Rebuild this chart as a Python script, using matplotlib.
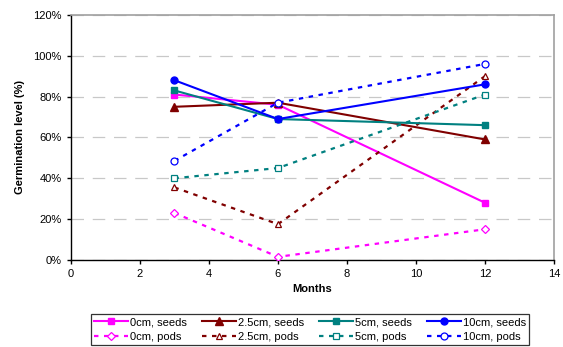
import matplotlib
matplotlib.use("Agg")
import matplotlib.pyplot as plt
from matplotlib.ticker import PercentFormatter

plt.rcParams['font.family'] = ['Liberation Sans', 'DejaVu Sans']

months = [3, 6, 12]
labels = ['0cm', '2.5cm', '5cm', '10cm']
colors = ['#FF00FF', '#800000', '#008080', '#0000FF']
seed_markers = ['s', '^', 's', 'o']
pod_markers = ['D', '^', 's', 'o']

seeds = [
    [81, 76, 28],
    [75, 77, 59],
    [83, 69, 66],
    [88, 69, 86],
]
pods = [
    [23, 1.5, 15],
    [35.5, 17.5, 90],
    [40, 45, 81],
    [48.5, 77, 96],
]

fig = plt.figure(figsize=(5.63, 3.47), dpi=100)
ax = fig.add_axes([0.126, 0.251, 0.858, 0.706])

handles = []
for i in range(4):
    ms = 5 if seed_markers[i] != '^' else 5.5
    h1, = ax.plot(months, seeds[i], color=colors[i], lw=1.5,
                  marker=seed_markers[i], ms=ms, mec=colors[i],
                  label=f'{labels[i]}, seeds', zorder=3)
    pm = 3.8 if pod_markers[i] == 'D' else 5
    h2, = ax.plot(months, pods[i], color=colors[i], lw=1.6,
                  linestyle=(0, (2, 2.5)), marker=pod_markers[i], ms=pm,
                  mfc='white', mec=colors[i], mew=0.9,
                  label=f'{labels[i]}, pods', zorder=3)
    handles += [h1, h2]

ax.set_xlim(0, 14)
ax.set_ylim(0, 120)
ax.set_xticks(range(0, 15, 2))
ax.set_yticks(range(0, 121, 20))
ax.yaxis.set_major_formatter(PercentFormatter(decimals=0))
ax.tick_params(labelsize=8, length=3, width=1, direction='out')
ax.yaxis.grid(True, color='#C8C8C8', lw=0.9, linestyle=(0, (10, 7)))
ax.set_axisbelow(True)
for s in ['top', 'right']:
    ax.spines[s].set_color('#A0A0A0')
    ax.spines[s].set_linewidth(1.2)
for s in ['left', 'bottom']:
    ax.spines[s].set_color('black')
    ax.spines[s].set_linewidth(1)

ax.set_xlabel('Months', fontsize=8, fontweight='bold', labelpad=4)
ax.set_ylabel('Germination level (%)', fontsize=8, fontweight='bold', labelpad=6)

leg = fig.legend(handles=handles, loc='lower center', ncol=4,
                 bbox_to_anchor=(0.551, 0.006), fontsize=8, frameon=True,
                 fancybox=False, edgecolor='black', handlelength=3.0,
                 handletextpad=0.2, columnspacing=1.4, borderpad=0.3,
                 labelspacing=0.4, borderaxespad=0)
leg.get_frame().set_linewidth(0.9)

fig.savefig('out.png', dpi=100)
